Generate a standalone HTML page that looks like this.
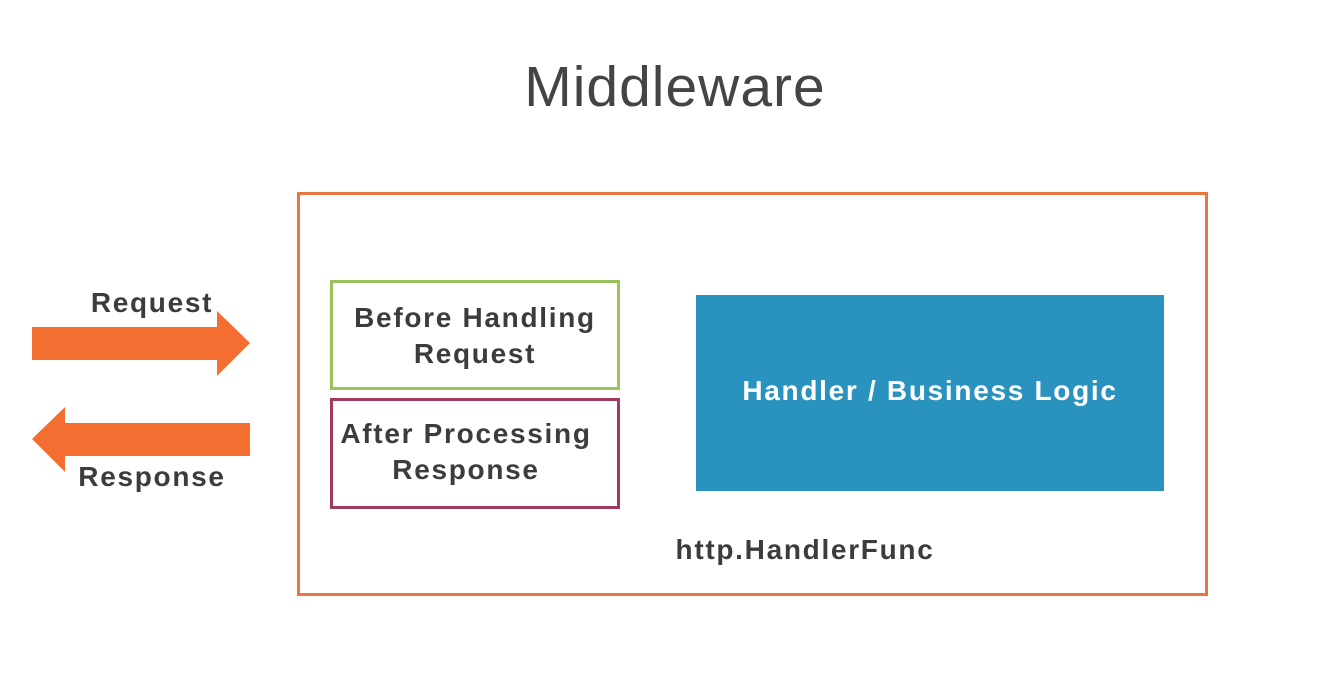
<!DOCTYPE html>
<html><head><style>
body{margin:0;width:1325px;height:686px;background:#fff;position:relative;font-family:"Liberation Sans",sans-serif;overflow:hidden}
.t{position:absolute;color:#3c3c3c;font-weight:bold;text-align:center;white-space:nowrap;letter-spacing:1.7px}
.box{position:absolute;box-sizing:border-box}
</style></head><body>
<div class="t" style="left:0;width:1350px;top:54px;font-size:57px;font-weight:normal;color:#444;letter-spacing:1px">Middleware</div>
<div class="box" style="left:297px;top:192px;width:911px;height:404px;border:3px solid #e9753f"></div>
<div class="box" style="left:330px;top:280px;width:290px;height:110px;border:3px solid #9bc15a"></div>
<div class="box" style="left:330px;top:398px;width:290px;height:111px;border:3px solid #a03a5f"></div>
<div class="box" style="left:696px;top:295px;width:468px;height:196px;background:#2a92be"></div>
<div class="t" style="left:330px;width:290px;top:300px;font-size:28px;line-height:36px">Before Handling<br>Request</div>
<div class="t" style="left:330px;width:272px;top:416px;font-size:28px;line-height:36px">After Processing<br>Response</div>
<div class="t" style="left:696px;width:468px;top:375px;font-size:28px;color:#fff">Handler / Business Logic</div>
<div class="t" style="left:650px;width:310px;top:534px;font-size:28px">http.HandlerFunc</div>
<div class="t" style="left:62px;width:180px;top:287px;font-size:28px">Request</div>
<div class="t" style="left:62px;width:180px;top:461px;font-size:28px">Response</div>
<svg style="position:absolute;left:0;top:0" width="1325" height="686">
<polygon points="32,327 217,327 217,311 250,343 217,376 217,360 32,360" fill="#f46e32"/>
<polygon points="250,423 65,423 65,407 32,439 65,472 65,456 250,456" fill="#f46e32"/>
</svg>
</body></html>
